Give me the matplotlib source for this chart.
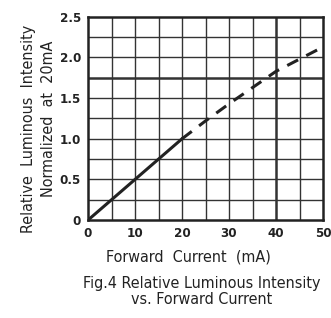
import matplotlib
matplotlib.use('Agg')
import matplotlib.pyplot as plt

# data
current = [0, 5, 10, 15, 20, 25, 30, 35, 40, 45, 50]
intensity = [0, 0.25, 0.5, 0.75, 1.0, 1.22, 1.43, 1.63, 1.83, 1.98, 2.13]
solid_end = 20  # measured part (solid), rest dashed
xticks = [0, 10, 20, 30, 40, 50]
yticks = [0, 0.5, 1.0, 1.5, 2.0, 2.5]
yticklabels = ['0', '0.5', '1.0', '1.5', '2.0', '2.5']

plt.rcParams['font.family'] = ['DejaVu Sans']
plt.rcParams['font.stretch'] = 'condensed'

fig = plt.figure(figsize=(3.31, 3.18), dpi=100)
fig.patch.set_facecolor('white')
ax = fig.add_axes([0.266, 0.308, 0.71, 0.639])

ax.set_xlim(0, 50)
ax.set_ylim(0, 2.5)
for x in range(5, 50, 5):
    ax.axvline(x, color='#333333', lw=1.8 if x == 40 else 1.0, zorder=1)
for k in range(1, 10):
    y = k * 0.25
    ax.axhline(y, color='#333333', lw=1.8 if k == 7 else 1.0, zorder=1)

i = current.index(solid_end)
ax.plot(current[:i + 1], intensity[:i + 1], color='#222222', lw=2.2, zorder=3)
ax.plot(current[i:], intensity[i:], color='#222222', lw=2.2,
        dashes=(4, 3), zorder=3)

ax.set_xticks(xticks)
ax.set_yticks(yticks)
ax.set_yticklabels(yticklabels)
ax.tick_params(length=0, labelsize=9.5, pad=5, colors='#222222')
for lab in ax.get_xticklabels() + ax.get_yticklabels():
    lab.set_fontweight('bold')
for s in ax.spines.values():
    s.set_linewidth(1.8)
    s.set_color('#222222')

fig.text(0.085, 0.594, 'Relative  Luminous  Intensity', rotation=90,
         ha='center', va='center', fontsize=11.5, color='#222222')
fig.text(0.148, 0.626, 'Normalized  at  20mA', rotation=90,
         ha='center', va='center', fontsize=11.5, color='#222222')
fig.text(0.57, 0.192, 'Forward  Current  (mA)', ha='center', va='center',
         fontsize=11.5, color='#222222')
fig.text(0.61, 0.083, 'Fig.4 Relative Luminous Intensity\nvs. Forward Current',
         ha='center', va='center', fontsize=11.5, color='#222222',
         linespacing=1.05)

plt.savefig('out.png', dpi=100)
